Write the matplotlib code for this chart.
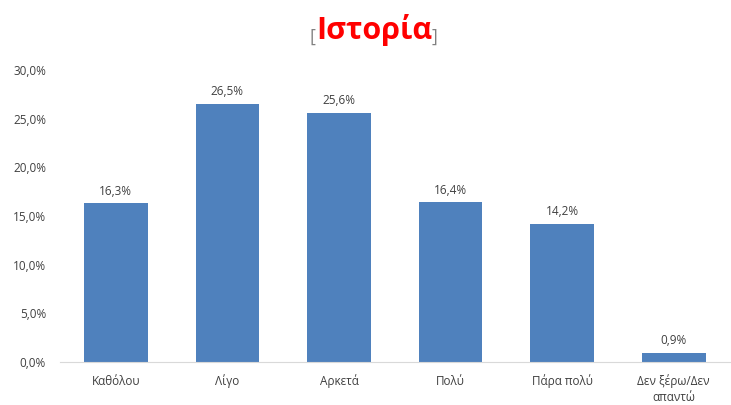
import matplotlib.pyplot as plt
from matplotlib.ticker import FuncFormatter

categories = ['Καθόλου', 'Λίγο', 'Αρκετά', 'Πολύ', 'Πάρα πολύ', 'Δεν ξέρω/Δεν\nαπαντώ']
values = [16.3, 26.5, 25.6, 16.4, 14.2, 0.9]

plt.rcParams['font.family'] = ['Open Sans', 'DejaVu Sans']

fig = plt.figure(figsize=(7.31, 4.05), dpi=100)
ax = fig.add_axes([0.082, 0.106, 0.916, 0.721])

x = range(len(categories))
bars = ax.bar(x, values, width=0.57, color='#4F81BD')
for xi, v in zip(x, values):
    ax.text(xi, v + 0.6, f'{v:.1f}%'.replace('.', ','), ha='center', va='bottom',
            fontsize=8.5, color='#404040')

ax.set_xlim(-0.5, len(categories) - 0.5)
ax.set_ylim(0, 30)
ax.set_yticks([0, 5, 10, 15, 20, 25, 30])
ax.yaxis.set_major_formatter(FuncFormatter(lambda v, p: f'{v:.1f}%'.replace('.', ',')))
ax.set_xticks(list(x))
ax.set_xticklabels(categories, linespacing=1.3)
ax.tick_params(axis='both', length=0, labelsize=8.5, labelcolor='#404040')
ax.tick_params(axis='x', pad=9)
ax.tick_params(axis='y', pad=10)
for s in ['top', 'right', 'left']:
    ax.spines[s].set_visible(False)
ax.spines['bottom'].set_color('#D9D9D9')

# title: gray brackets around red word
t1 = fig.text(0.424, 0.897, '[', fontsize=13, color='#808080', va='baseline')
t2 = ax.annotate('Ιστορία', xy=(1, 0), xycoords=t1, fontsize=22, color='#FF0000',
                 fontweight='bold', va='bottom', annotation_clip=False)
t3 = ax.annotate(']', xy=(1, 0), xycoords=t2, fontsize=13, color='#808080',
                 va='bottom', annotation_clip=False)

fig.savefig('out.png', dpi=100)
